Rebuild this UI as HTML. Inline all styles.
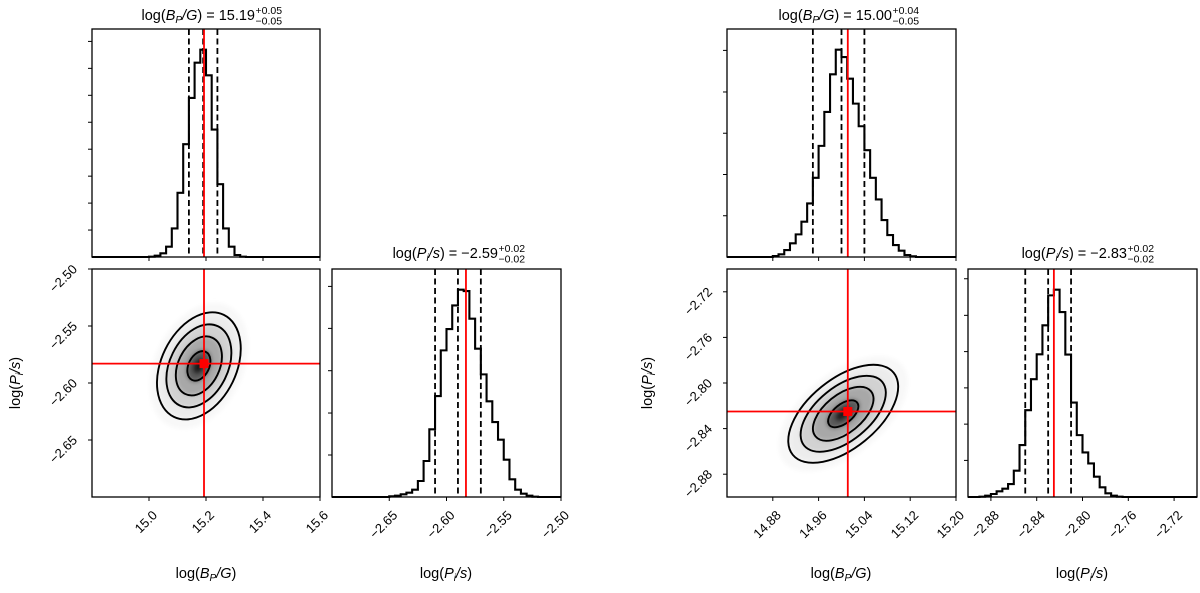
<!DOCTYPE html>
<html><head><meta charset="utf-8"><style>
html,body{margin:0;padding:0;background:#fff;}
svg text{font-family:"Liberation Sans","DejaVu Sans",sans-serif;fill:#000;}
</style></head><body>
<svg id="fig" width="1200" height="588" viewBox="0 0 1200 588" xmlns="http://www.w3.org/2000/svg">
<defs><filter id="blur" x="-20%" y="-20%" width="140%" height="140%"><feGaussianBlur stdDeviation="2.2"/></filter></defs>
</svg>
<script>
// ---------- data ----------
const leftBpCounts=[0,0,0,0,0,0,0,0,0,0,1,4,11,31,86,193,339,478,584,623,546,383,219,86,31,6,1,0,0,0,0,0,0,0,0,0,0,0,0,0];
const leftPiCounts=[0,0,0,0,0,0,0,0,0,0,2,4,8,13,22,48,108,203,303,440,504,575,622,618,535,445,368,287,225,172,112,53,22,10,4,1,0,0,0,0];
const rightBpCounts=[0,0,0,0,0,0,0,0,3,8,21,41,68,106,161,238,334,436,549,623,601,536,461,393,321,238,173,111,66,36,19,6,2,0,0,0,0,0,0,0];
const rightPiCounts=[0,0,1,4,9,17,25,39,79,156,261,354,429,516,606,623,556,428,284,186,134,101,61,29,11,4,1,0,0,0,0,0,0,0,0,0,0,0,0,0];
const leftBpQuantiles=[15.14,15.19,15.24];
const leftPiQuantiles=[-2.61,-2.59,-2.57];
const rightBpQuantiles=[14.95,15.00,15.04];
const rightPiQuantiles=[-2.85,-2.83,-2.81];
const leftTruth=[15.193,-2.583];
const rightTruth=[15.011,-2.825];
const leftGauss=[15.175,-2.585,0.0735,0.0235,0.32];
const rightGauss=[15.003,-2.827,0.048,0.0215,0.55];
const contourLevels=[0.55,1.1,1.55,2.0];
const leftBpTicks=[15.0,15.2,15.4,15.6];
const leftBpTickLabels=["15.0","15.2","15.4","15.6"];
const leftPiTicks=[-2.65,-2.60,-2.55,-2.50];
const leftPiTickLabels=["−2.65","−2.60","−2.55","−2.50"];
const leftPiYTicks=[-2.65,-2.60,-2.55,-2.50];
const rightBpTicks=[14.88,14.96,15.04,15.12,15.20];
const rightBpTickLabels=["14.88","14.96","15.04","15.12","15.20"];
const rightPiTicks=[-2.88,-2.84,-2.80,-2.76,-2.72];
const rightPiTickLabels=["−2.88","−2.84","−2.80","−2.76","−2.72"];
const leftBpCountTicks=[81,162,243,324,405,486,567,648];
const leftPiCountTicks=[126,252,379,506,632];
const rightBpCountTicks=[124,248,372,496,621];
const rightPiCountTicks=[110,219,328,437,546,656];
// ---------- helpers ----------
const NS="http://www.w3.org/2000/svg";
const svg=document.getElementById('fig');
function mk(tag,attrs,parent){const e=document.createElementNS(NS,tag);for(const k in attrs)e.setAttribute(k,attrs[k]);(parent||svg).appendChild(e);return e;}
function lin(d0,d1,p0,p1){return v=>p0+(v-d0)/(d1-d0)*(p1-p0);}

function frame(P,name){
  const r=mk('rect',{x:P.x,y:P.y,width:P.w,height:P.h,fill:'none',stroke:'#000','stroke-width':1.3});
  
  
}
function xTicks(P,sx,ticks,labels,name){
  ticks.forEach((t,i)=>{
    const x=sx(t);
    const l=mk('line',{x1:x,x2:x,y1:P.y+P.h,y2:P.y+P.h+4,stroke:'#000','stroke-width':1});
    
    
    if(labels){
      const ax=x+9, ay=P.y+P.h+19;
      const tx=mk('text',{x:ax,y:ay,'font-size':13,'text-anchor':'end',transform:`rotate(-45 ${ax} ${ay})`});
      tx.textContent=labels[i];
      
      
    }
  });
}
function yTicks(P,sy,ticks,labels,name){
  ticks.forEach((t,i)=>{
    const y=sy(t);
    const l=mk('line',{x1:P.x-4,x2:P.x,y1:y,y2:y,stroke:'#000','stroke-width':1});
    
    
    if(labels){
      const ax=P.x-14, ay=y+1;
      const tx=mk('text',{x:ax,y:ay,'font-size':13,'text-anchor':'end',transform:`rotate(-45 ${ax} ${ay})`});
      tx.textContent=labels[i];
      
      
    }
  });
}
function hist(P,d0,d1,counts,quant,truth,xt,xl,cTicks,name){
  const sx=lin(d0,d1,P.x,P.x+P.w);
  const maxc=Math.max(...counts);
  const sy=lin(0,maxc*1.1,P.y+P.h,P.y);
  const n=counts.length;
  let d=`M${sx(d0)},${sy(0)}`;
  counts.forEach((c,i)=>{
    const a=d0+(d1-d0)*i/n, b=d0+(d1-d0)*(i+1)/n;
    d+=` L${sx(a)},${sy(c)} L${sx(b)},${sy(c)}`;
  });
  const p=mk('path',{d:d,fill:'none',stroke:'#000','stroke-width':2.1,'stroke-linejoin':'miter'});
  
  
  quant.forEach(q=>{
    const x=sx(q);
    const l=mk('line',{x1:x,x2:x,y1:P.y,y2:P.y+P.h,stroke:'#000','stroke-width':1.8,'stroke-dasharray':'6,3.5'});
    
    
  });
  const tx=sx(truth);
  const t=mk('line',{x1:tx,x2:tx,y1:P.y,y2:P.y+P.h,stroke:'#ff0000','stroke-width':1.8});
  
  
  frame(P,name);
  xTicks(P,sx,xt,xl,name);
  yTicks(P,sy,cTicks,null,name);
}
function density(P,xr,yr,g,truth,xt,xl,yt,yl,name,clipId){
  const sx=lin(xr[0],xr[1],P.x,P.x+P.w), sy=lin(yr[0],yr[1],P.y+P.h,P.y);
  const cp=mk('clipPath',{id:clipId});
  mk('rect',{x:P.x,y:P.y,width:P.w,height:P.h},cp);
  const kx=P.w/(xr[1]-xr[0]), ky=-P.h/(yr[1]-yr[0]);
  const [mx,my,gsx,gsy,rho]=g;
  const a=(gsx*kx)**2, dd=(gsy*ky)**2, b=rho*gsx*gsy*kx*ky;
  const th=0.5*Math.atan2(2*b,a-dd);
  const m=(a+dd)/2, s=Math.sqrt(((a-dd)/2)**2+b*b);
  const l1=Math.sqrt(m+s), l2=Math.sqrt(m-s);
  const cx=sx(mx), cy=sy(my), deg=th*180/Math.PI;
  const gg=mk('g',{'clip-path':`url(#${clipId})`,filter:'url(#blur)'});
  
  
  const shadeR=[2.35,1.95,1.55,1.1,0.6,0.3], shadeC=['#f8f8f8','#ececec','#d2d2d2','#a8a8a8','#5a5a5a','#1a1a1a'];
  shadeR.forEach((r,i)=>{mk('ellipse',{cx:cx,cy:cy,rx:r*l1,ry:r*l2,fill:shadeC[i],transform:`rotate(${deg} ${cx} ${cy})`},gg);});
  contourLevels.forEach(r=>{
    const e=mk('ellipse',{cx:cx,cy:cy,rx:r*l1,ry:r*l2,fill:'none',stroke:'#000','stroke-width':1.9,transform:`rotate(${deg} ${cx} ${cy})`});
    
    
  });
  const tx=sx(truth[0]), ty=sy(truth[1]);
  const v=mk('line',{x1:tx,x2:tx,y1:P.y,y2:P.y+P.h,stroke:'#ff0000','stroke-width':1.8});
  
  
  const h=mk('line',{x1:P.x,x2:P.x+P.w,y1:ty,y2:ty,stroke:'#ff0000','stroke-width':1.8});
  
  
  const sq=mk('rect',{x:tx-4.5,y:ty-4.5,width:9,height:9,fill:'#ff0000'});
  
  
  frame(P,name);
  xTicks(P,sx,xt,xl,name);
  yTicks(P,sy,yt,yl,name);
}
function title(cx,endOff,y,mainHTML,sup,sub,name){
  const t=mk('text',{x:cx+endOff,y:y,'font-size':14.5,'text-anchor':'end'});
  t.innerHTML=mainHTML;
  
  
  const a=mk('text',{x:cx+endOff+0.5,y:y-6,'font-size':10.5});a.textContent=sup;
  
  
  const b=mk('text',{x:cx+endOff+0.5,y:y+4.5,'font-size':10.5});b.textContent=sub;
  
  
}
function label(x,y,html,rot,name){
  const t=mk('text',{x:x,y:y,'font-size':14.5,'text-anchor':'middle',transform:rot?`rotate(-90 ${x} ${y})`:''});
  t.innerHTML=html;
  
  
}
const BP='log(<tspan font-style="italic">B</tspan><tspan font-style="italic" font-size="10" dy="3">P</tspan><tspan dy="-3" font-style="italic">/G</tspan>)';
const PI='log(<tspan font-style="italic">P</tspan><tspan font-style="italic" font-size="10" dy="3">i</tspan><tspan dy="-3" font-style="italic">/s</tspan>)';

// ---------- left corner ----------
const LT={x:92,y:29,w:228,h:228}, LD={x:92,y:269,w:228,h:228}, LR={x:332,y:269,w:229,h:228};
hist(LT,14.8,15.6,leftBpCounts,leftBpQuantiles,leftTruth[0],leftBpTicks,null,leftBpCountTicks,'left-bp-hist');
density(LD,[14.8,15.6],[-2.70,-2.50],leftGauss,leftTruth,leftBpTicks,leftBpTickLabels,leftPiYTicks,leftPiTickLabels,'left-2d','clipL');
hist(LR,-2.70,-2.50,leftPiCounts,leftPiQuantiles,leftTruth[1],leftPiTicks,leftPiTickLabels,leftPiCountTicks,'left-pi-hist');
title(206,49,20,BP+' = 15.19','+0.05','−0.05','left-bp-title');
title(446,52,258,PI+' = −2.59','+0.02','−0.02','left-pi-title');
label(206,578,BP,false,'left-x-axis-title-bp');
label(446,578,PI,false,'left-x-axis-title-pi');
label(20,383,PI,true,'left-y-axis-title');

// ---------- right corner ----------
const RT={x:727,y:29,w:229,h:228}, RD={x:727,y:269,w:229,h:228}, RR={x:968,y:269,w:229,h:228};
hist(RT,14.8,15.2,rightBpCounts,rightBpQuantiles,rightTruth[0],rightBpTicks,null,rightBpCountTicks,'right-bp-hist');
density(RD,[14.8,15.2],[-2.90,-2.70],rightGauss,rightTruth,rightBpTicks,rightBpTickLabels,rightPiTicks,rightPiTickLabels,'right-2d','clipR');
hist(RR,-2.90,-2.70,rightPiCounts,rightPiQuantiles,rightTruth[1],rightPiTicks,rightPiTickLabels,rightPiCountTicks,'right-pi-hist');
title(841,51,20,BP+' = 15.00','+0.04','−0.05','right-bp-title');
title(1082,45,258,PI+' = −2.83','+0.02','−0.02','right-pi-title');
label(841,578,BP,false,'right-x-axis-title-bp');
label(1082,578,PI,false,'right-x-axis-title-pi');
label(652,383,PI,true,'right-y-axis-title');
</script>
</body></html>
